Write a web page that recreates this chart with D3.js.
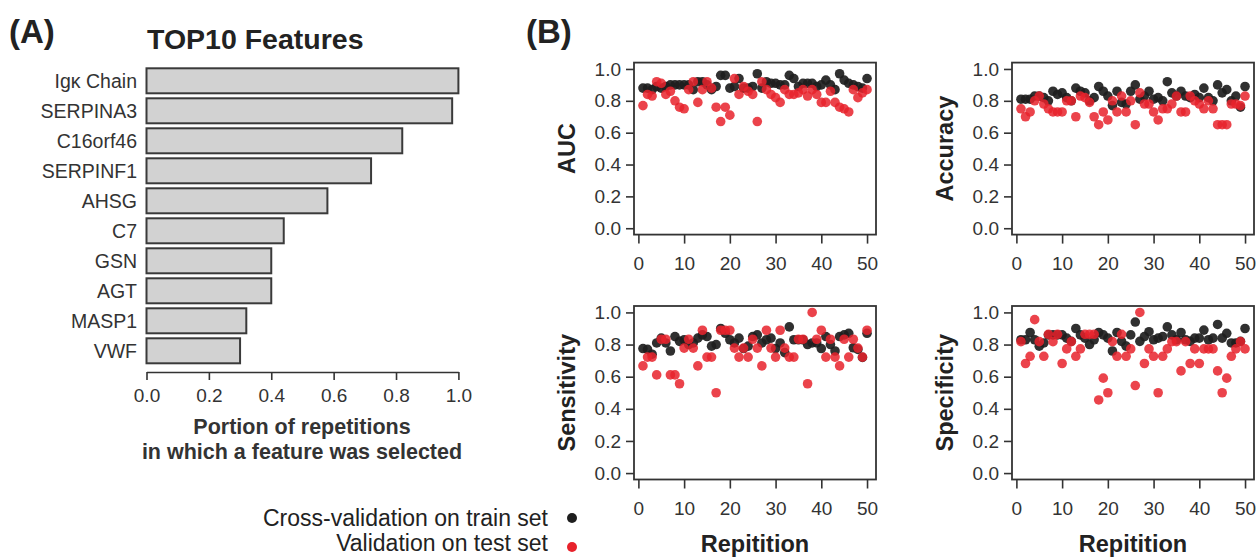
<!DOCTYPE html>
<html><head><meta charset="utf-8">
<script src="https://cdn.jsdelivr.net/npm/d3@7"></script>
<style>
body{margin:0;background:#fff}
svg{display:block}
text{font-family:"Liberation Sans",Arial,Helvetica,sans-serif;fill:#333}
</style>
</head><body>
<svg id="chart" width="1260" height="557"></svg>
<script>
// ---------- DATA ----------
const features = ["Igκ Chain","SERPINA3","C16orf46","SERPINF1","AHSG","C7","GSN","AGT","MASP1","VWF"];
const portions = [1.00,0.98,0.82,0.72,0.58,0.44,0.40,0.40,0.32,0.30];
const barTicks = [0,0.2,0.4,0.6,0.8,1.0];

const repetitions = [1,2,3,4,5,6,7,8,9,10,11,12,13,14,15,16,17,18,19,20,21,22,23,24,25,26,27,28,29,30,31,32,33,34,35,36,37,38,39,40,41,42,43,44,45,46,47,48,49,50];

const aucTrain = [0.88,0.88,0.87,0.89,0.88,0.89,0.90,0.90,0.90,0.90,0.90,0.87,0.92,0.92,0.90,0.87,0.89,0.96,0.96,0.88,0.89,0.94,0.88,0.88,0.89,0.97,0.88,0.92,0.91,0.91,0.90,0.90,0.96,0.94,0.89,0.91,0.91,0.91,0.89,0.90,0.93,0.90,0.87,0.97,0.93,0.91,0.90,0.89,0.88,0.94];
const aucTest = [0.77,0.84,0.83,0.92,0.91,0.84,0.86,0.80,0.76,0.75,0.87,0.92,0.79,0.87,0.92,0.88,0.76,0.67,0.76,0.71,0.94,0.84,0.89,0.86,0.84,0.67,0.92,0.87,0.84,0.82,0.79,0.87,0.84,0.84,0.85,0.87,0.83,0.87,0.84,0.79,0.79,0.86,0.79,0.76,0.75,0.73,0.87,0.82,0.85,0.87];

const accTrain = [0.81,0.81,0.81,0.83,0.83,0.82,0.80,0.86,0.84,0.85,0.82,0.80,0.88,0.86,0.85,0.80,0.82,0.89,0.86,0.83,0.77,0.86,0.79,0.78,0.86,0.90,0.81,0.83,0.86,0.81,0.82,0.80,0.92,0.85,0.83,0.86,0.83,0.82,0.84,0.82,0.88,0.82,0.80,0.90,0.85,0.87,0.80,0.83,0.76,0.89];
const accTest = [0.75,0.70,0.73,0.80,0.83,0.78,0.75,0.73,0.73,0.73,0.80,0.80,0.70,0.83,0.82,0.79,0.70,0.65,0.73,0.68,0.80,0.73,0.83,0.73,0.80,0.65,0.85,0.78,0.78,0.73,0.68,0.75,0.75,0.78,0.83,0.73,0.73,0.83,0.80,0.78,0.75,0.80,0.75,0.65,0.65,0.65,0.78,0.78,0.77,0.83];

const sensTrain = [0.775,0.77,0.74,0.81,0.84,0.81,0.76,0.85,0.82,0.83,0.80,0.81,0.84,0.86,0.85,0.79,0.80,0.90,0.87,0.83,0.81,0.84,0.775,0.79,0.85,0.86,0.81,0.83,0.84,0.775,0.81,0.75,0.91,0.83,0.83,0.83,0.80,0.81,0.81,0.775,0.85,0.80,0.76,0.85,0.86,0.87,0.78,0.77,0.72,0.87];
const sensTest = [0.667,0.722,0.722,0.611,0.833,0.833,0.611,0.611,0.556,0.778,0.833,0.778,0.667,0.889,0.722,0.722,0.500,0.889,0.889,0.889,0.778,0.722,0.778,0.722,0.833,0.778,0.667,0.889,0.778,0.722,0.889,0.778,0.722,0.722,0.833,0.833,0.556,1.000,0.833,0.889,0.722,0.833,0.722,0.667,0.833,0.722,0.833,0.778,0.722,0.889];

const specTrain = [0.83,0.83,0.875,0.83,0.79,0.81,0.86,0.86,0.86,0.86,0.84,0.82,0.90,0.86,0.84,0.80,0.83,0.875,0.86,0.84,0.76,0.875,0.82,0.79,0.86,0.94,0.82,0.85,0.88,0.83,0.84,0.85,0.91,0.86,0.83,0.875,0.83,0.82,0.84,0.84,0.89,0.83,0.84,0.925,0.84,0.87,0.81,0.81,0.82,0.90];
const specTest = [0.818,0.682,0.727,0.955,0.818,0.727,0.864,0.818,0.864,0.682,0.773,0.818,0.727,0.773,0.864,0.864,0.864,0.455,0.591,0.500,0.818,0.727,0.864,0.727,0.773,0.545,1.000,0.682,0.773,0.727,0.500,0.727,0.773,0.818,0.818,0.636,0.818,0.682,0.773,0.682,0.773,0.773,0.773,0.636,0.500,0.591,0.727,0.773,0.818,0.773];

const metricNames = ["AUC","Accuracy","Sensitivity","Specificity"];
const yTicks = [0,0.2,0.4,0.6,0.8,1.0];
const xTicks = [0,10,20,30,40,50];
const legendLabels = ["Cross-validation on train set","Validation on test set"];
const panelLetters = ["(A)","(B)"];

// ---------- DRAW ----------
const svg = d3.select("#chart");
const ink = "#333";
const colTrain = "#1e1e1e", colTest = "#e8222b";
const FF = '"Liberation Sans",Arial,sans-serif';

svg.append("text").attr("x",9).attr("y",43).attr("font-size",33).attr("font-weight","bold").style("fill","#222").text(panelLetters[0]);
svg.append("text").attr("x",526).attr("y",43).attr("font-size",33).attr("font-weight","bold").style("fill","#222").text(panelLetters[1]);
svg.append("text").attr("x",147).attr("y",49).attr("font-size",28.5).attr("font-weight","bold").style("fill","#222").text("TOP10 Features");

// ----- bar chart -----
const bx = d3.scaleLinear().domain([0,1]).range([146.5,458.4]);
const by = d3.scaleBand().domain(features).range([65.8,365.8]).paddingInner(1/6).paddingOuter(1/12);
const gBar = svg.append("g");
gBar.selectAll("rect").data(features).join("rect")
  .attr("x",bx(0)).attr("y",d=>by(d))
  .attr("width",(d,i)=>bx(portions[i])-bx(0)).attr("height",by.bandwidth())
  .attr("fill","#d2d2d2").attr("stroke","#3a3a3a").attr("stroke-width",2);
gBar.selectAll("text.lab").data(features).join("text").attr("class","lab")
  .attr("x",137).attr("y",d=>by(d)+by.bandwidth()/2).attr("dy","0.35em")
  .attr("text-anchor","end").attr("font-size",19.5).text(d=>d);
const bAxis = svg.append("g").attr("transform","translate(0,372)")
  .call(d3.axisBottom(bx).tickValues(barTicks).tickFormat(d3.format(".1f")).tickSize(8).tickSizeOuter(0));
bAxis.selectAll("path,line").attr("stroke",ink).attr("stroke-width",1.6);
bAxis.selectAll("text").attr("font-size",19).attr("y",17).style("fill",ink).style("font-family",FF);
svg.append("text").attr("x",302).attr("y",434).attr("text-anchor","middle").attr("font-size",21.5).attr("font-weight","bold").text("Portion of repetitions");
svg.append("text").attr("x",302).attr("y",459).attr("text-anchor","middle").attr("font-size",21.5).attr("font-weight","bold").text("in which a feature was selected");

// ----- scatter panels -----
const seriesTrain = [aucTrain,accTrain,sensTrain,specTrain];
const seriesTest = [aucTest,accTest,sensTest,specTest];
const panelW = 242;
const lefts = [634,1012,634,1012];
const tops = [62.6,62.6,306,306];
const heights = [172,172,173.5,173.5];

metricNames.forEach((name,k)=>{
  const L = lefts[k], T = tops[k], H = heights[k], B = T+H, R = L+panelW;
  const x = d3.scaleLinear().domain([-0.96,51.96]).range([L,R]);
  const y = d3.scaleLinear().domain([-0.04,1.04]).range([B,T]);
  const g = svg.append("g");
  g.selectAll("circle.tr").data(repetitions).join("circle").attr("class","tr")
    .attr("cx",d=>x(d)).attr("cy",(d,i)=>y(seriesTrain[k][i])).attr("r",4.8)
    .attr("fill",colTrain).attr("fill-opacity",0.92);
  g.selectAll("circle.te").data(repetitions).join("circle").attr("class","te")
    .attr("cx",d=>x(d)).attr("cy",(d,i)=>y(seriesTest[k][i])).attr("r",4.8)
    .attr("fill",colTest).attr("fill-opacity",0.85);
  g.append("rect").attr("x",L).attr("y",T).attr("width",panelW).attr("height",H)
    .attr("fill","none").attr("stroke",ink).attr("stroke-width",1.8);
  const ya = svg.append("g").attr("transform",`translate(${L},0)`)
    .call(d3.axisLeft(y).tickValues(yTicks).tickFormat(d3.format(".1f")).tickSize(8).tickSizeOuter(0));
  ya.select("path").remove();
  ya.selectAll("line").attr("stroke",ink).attr("stroke-width",1.6);
  ya.selectAll("text").attr("font-size",19).attr("x",-13).style("fill",ink).style("font-family",FF);
  const xa = svg.append("g").attr("transform",`translate(0,${B})`)
    .call(d3.axisBottom(x).tickValues(xTicks).tickSize(9).tickSizeOuter(0));
  xa.select("path").remove();
  xa.selectAll("line").attr("stroke",ink).attr("stroke-width",1.6);
  xa.selectAll("text").attr("font-size",19).attr("y",22).style("fill",ink).style("font-family",FF);
  svg.append("text").attr("transform",`translate(${L-67},${(T+B)/2}) rotate(-90)`)
    .attr("dy","0.36em").attr("text-anchor","middle").attr("font-size",23.5).attr("font-weight","bold").style("fill","#222").text(name);
  if(k>=2){
    svg.append("text").attr("x",(L+R)/2).attr("y",544).attr("dy","0.36em").attr("text-anchor","middle")
      .attr("font-size",23.5).attr("font-weight","bold").style("fill","#222").text("Repitition");
  }
});

// ----- legend -----
const legCols = [colTrain,colTest];
const legY = [518,542.5];
const dotY = [518,547];
legendLabels.forEach((lab,i)=>{
  svg.append("text").attr("x",548).attr("y",legY[i]).attr("dy","0.36em").attr("text-anchor","end")
    .attr("font-size",23).style("fill","#222").text(lab);
  svg.append("circle").attr("cx",572).attr("cy",dotY[i]).attr("r",5).attr("fill",legCols[i]);
});
</script>
</body></html>
